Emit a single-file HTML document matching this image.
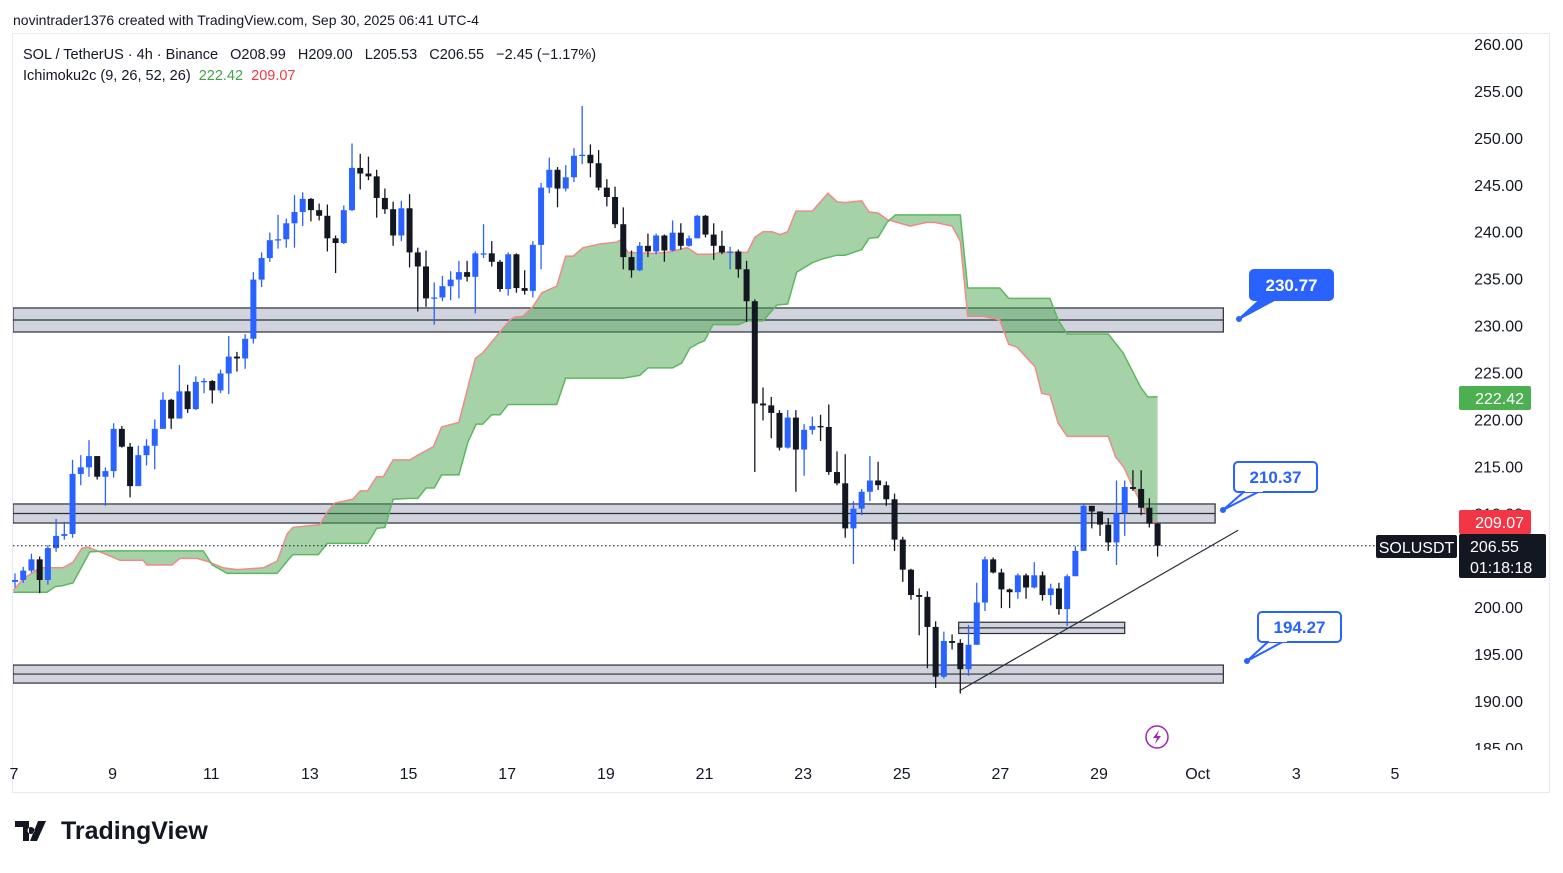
<!DOCTYPE html>
<html><head><meta charset="utf-8"><style>
body{margin:0;background:#fff;font-family:"Liberation Sans",sans-serif}
svg text{font-family:"Liberation Sans",sans-serif}
.pre{white-space:pre}
</style></head><body>
<svg id="c" width="1563" height="868" xmlns="http://www.w3.org/2000/svg">
<rect x="0" y="0" width="1563" height="868" fill="#fff"/>
<text x="13" y="25" font-size="14" fill="#131722">novintrader1376 created with TradingView.com, Sep 30, 2025 06:41 UTC-4</text>
<rect x="12.5" y="33.5" width="1537" height="759" fill="none" stroke="#e9eaee"/>
<g id="boxes"></g><g id="cloud"></g><g id="candles"></g><g id="draw"></g>
<g>
<text class="pre" x="23" y="59" font-size="14.5" fill="#131722">SOL / TetherUS · 4h · Binance   O208.99   H209.00   L205.53   C206.55   −2.45 (−1.17%)</text>
<text class="pre" x="23" y="80" font-size="14.5" fill="#131722">Ichimoku2c (9, 26, 52, 26)  <tspan fill="#43a047">222.42</tspan>  <tspan fill="#f23645">209.07</tspan></text>
</g>
<g id="yaxis"></g><g id="xaxis"></g><g id="labels"></g>
<g><circle cx="1157" cy="737" r="11" fill="#fff" stroke="#9c27b0" stroke-width="1.5"/><path d="M1159 730 L1153 738 L1157 738 L1155 744 L1161 736 L1157 736 Z" fill="#9c27b0"/></g>
<g>
<path d="M15 821 h14 v20 h-6 v-14 h-8 Z M31 827 a3.5 3.5 0 1 0 0.01 0 Z M38 821 h8 l-9 20 h-7 Z" fill="#131722"/>
<text x="61" y="839" font-size="25" font-weight="bold" fill="#131722">TradingView</text>
</g>
</svg>
<script>
const closes=[202.9,203.9,205.1,202.9,206.3,207.6,207.8,214.2,214.9,216.1,213.9,214.5,219.0,217.1,212.9,216.2,217.2,219.0,222.1,220.1,223.0,221.1,224.0,224.1,223.1,224.9,226.7,226.5,228.6,234.9,237.2,239.1,239.2,240.9,242.1,243.5,242.3,241.7,239.3,238.8,242.3,246.8,246.2,245.9,243.6,242.4,239.6,242.5,237.8,236.3,232.9,233.0,234.2,234.9,235.7,235.2,237.7,237.7,236.8,233.9,237.6,234.0,233.7,238.6,244.7,246.6,244.6,245.8,248.1,248.2,247.3,244.7,243.7,240.8,237.3,235.9,238.5,237.9,239.6,238.0,239.9,238.5,239.3,241.7,239.7,238.5,237.8,237.9,236.0,232.6,221.7,221.5,220.7,217.0,220.2,216.8,218.9,219.3,219.2,214.4,213.2,208.4,210.5,212.3,213.5,213.0,211.5,207.2,204.0,201.3,201.1,197.9,192.6,196.4,196.2,193.4,196.0,200.5,205.1,203.7,201.9,201.6,203.4,202.1,203.4,201.3,202.0,199.8,203.3,206.0,210.8,210.2,208.8,206.9,210.0,212.8,212.6,210.6,208.9,206.55];
const firstOpen=202.7;
const highs=[203.6,204.3,205.7,205.4,206.6,209.4,209.1,215.7,216.2,217.8,216.1,214.9,219.6,219.3,217.5,217.2,217.9,220.0,222.9,222.2,225.8,223.7,224.6,224.4,224.2,225.3,228.9,227.2,229.1,235.7,237.8,239.9,241.8,241.4,243.9,244.2,243.6,243.0,242.9,239.6,242.8,249.4,248.3,248.0,246.6,244.6,243.2,243.3,244.0,238.3,238.0,234.6,235.3,235.8,236.9,236.9,237.9,240.8,239.0,237.0,237.8,237.7,235.9,239.0,245.2,247.9,246.9,247.1,248.9,253.4,249.3,248.7,245.6,244.8,242.6,238.0,238.9,239.8,239.8,239.7,241.2,240.9,239.6,241.8,241.8,240.9,240.1,238.4,238.1,236.9,232.8,223.4,222.4,221.0,221.0,221.0,219.5,220.3,220.5,221.6,216.6,216.3,211.3,212.6,216.1,215.5,213.4,212.1,207.5,204.1,202.0,201.7,198.5,197.4,197.1,196.6,198.1,202.6,205.4,205.3,204.1,202.0,203.6,203.6,204.8,203.8,202.5,202.6,203.5,206.5,211.0,210.8,209.6,209.5,213.5,213.5,214.6,214.6,211.6,209.0];
const lows=[202.1,202.6,203.7,201.5,202.4,205.9,207.2,207.4,213.0,213.9,213.6,210.8,213.8,217.0,211.7,212.9,215.1,214.7,219.2,219.0,220.1,220.7,221.0,222.8,221.7,222.8,222.7,225.1,225.4,228.1,234.1,236.8,238.2,238.3,238.3,240.6,241.1,241.2,237.9,235.6,238.7,242.2,244.5,245.5,241.5,241.9,238.5,239.0,236.2,231.5,232.0,230.1,232.6,232.7,232.9,234.7,231.3,237.2,236.3,233.6,233.2,233.5,233.3,233.0,236.0,244.1,242.6,244.3,245.3,247.2,245.8,244.4,242.7,240.4,236.0,235.1,235.8,237.3,237.6,236.8,237.9,238.1,238.4,239.3,239.4,237.0,237.6,236.0,235.1,230.4,214.4,219.9,218.0,216.7,216.9,212.3,214.0,218.4,217.7,214.1,213.0,207.4,204.6,209.8,211.3,212.5,210.8,206.0,202.7,200.8,197.0,193.5,191.4,192.4,195.5,190.8,192.7,196.0,199.6,203.6,199.9,199.9,200.9,200.9,202.0,200.7,200.2,199.2,198.0,203.5,206.0,208.4,207.6,206.0,204.5,207.6,212.4,209.8,208.5,205.4];
const spanAIdx=[-0.2,0.97,3.04,5.84,7.06,8.15,8.88,11.19,12.77,15.57,16.06,19.1,20.07,22.14,23.36,25.3,27.0,30.2,31.9,33.1,33.8,37.1,37.96,38.9,41.1,42.0,42.9,44.0,44.8,46.0,48.05,49.0,50.9,51.9,54.0,56.0,56.9,60.2,60.8,61.8,63.0,64.1,65.9,67.0,67.9,69.1,71.2,73.2,73.6,74.6,77.6,79.3,81.8,83.0,84.9,85.8,89.1,90.0,91.0,92.1,93.1,94.0,95.0,97.0,98.9,100.0,101.0,103.0,103.9,105.0,106.1,108.9,110.9,111.9,114.0,115.0,115.9,117.8,119.8,120.9,121.9,124.1,124.9,125.9,126.9,128.0,133.0,133.9,134.9,136.0,137.1,138.1,139];
const spanAVal=[201.8,203.0,204.2,204.2,204.8,206.3,206.4,205.6,205.0,205.0,204.5,204.5,205.2,205.2,204.9,204.2,204.0,204.2,204.9,207.8,208.5,208.8,210.1,211.1,211.5,212.4,212.4,213.9,213.9,215.7,215.7,216.2,217.1,219.2,219.7,226.5,227.1,230.6,230.9,231.0,232.0,233.5,234.2,237.4,237.4,238.3,238.7,238.9,239.1,237.8,237.7,237.8,238.3,237.6,237.6,237.8,237.8,239.4,240.0,240.0,239.7,240.0,242.2,242.2,244.1,243.2,243.1,243.3,242.1,242.0,241.3,240.6,241.0,241.0,240.6,239.0,231.0,231.0,230.6,228.0,227.7,225.6,222.8,222.6,219.6,218.2,218.2,216.0,214.9,212.8,210.9,209.1,209.07];
const spanBIdx=[-0.2,3.9,4.9,5.8,7.06,9.1,11.2,22.9,24.0,25.8,31.9,33.2,33.8,36.9,38.0,42.9,44.0,45.0,46.0,48.05,49.0,50.0,51.0,51.9,54.0,55.1,56.1,56.9,58.0,59.0,60.0,65.9,67.0,74.0,76.0,77.0,80.0,81.1,82.1,83.1,83.9,84.9,88.0,89.1,91.0,92.7,94.0,95.1,97.0,98.2,100.0,101.0,103.0,103.9,105.0,106.1,107.1,115.0,115.9,119.8,120.9,125.9,126.9,128.0,133.0,134.8,136.9,137.8,139];
const spanBVal=[201.6,201.6,202.2,202.3,202.6,205.9,206.0,206.0,204.5,203.6,203.6,205.0,205.6,205.6,206.8,206.8,208.4,208.5,211.5,211.6,211.6,212.7,212.7,214.1,214.1,217.6,219.5,219.5,220.5,220.5,221.6,221.6,224.4,224.4,224.7,225.5,225.5,226.0,227.6,228.1,228.4,230.1,230.1,230.5,230.5,232.2,232.3,235.7,236.7,237.1,237.5,237.5,238.1,239.3,239.4,241.0,241.8,241.8,234.0,234.0,232.9,232.9,230.6,229.1,229.1,227.1,223.5,222.4,222.42];
const yTicks=[260,255,250,245,240,235,230,225,220,215,210,205,200,195,190,185];
const xTickIdx=[0,12,24,36,48,60,72,84,96,108,120,132,144,156,168];
const xTickLabels=["7","9","11","13","15","17","19","21","23","25","27","29","Oct","3","5"];
const boxTop=[231.88,211.0,198.4,193.84];
const boxBot=[229.32,208.97,197.2,191.92];
const boxStart=[-0.24,-0.24,114.8,-0.24];
const boxEnd=[147.0,146.0,135.0,147.0];

const NS="http://www.w3.org/2000/svg";
const Y=p=>44+(260-p)*9.387;
const X=i=>15+i*8.22;
function mk(t,a,parent){const e=document.createElementNS(NS,t);for(const k in a)e.setAttribute(k,a[k]);parent.appendChild(e);return e;}
const svg=document.getElementById('c');
const gB=document.getElementById('boxes'),gC=document.getElementById('cloud'),gK=document.getElementById('candles'),gD=document.getElementById('draw'),gY=document.getElementById('yaxis'),gX=document.getElementById('xaxis'),gL=document.getElementById('labels');
const defs=mk('defs',{},svg);const cp=mk('clipPath',{id:'plot'},defs);mk('rect',{x:13,y:34,width:1440,height:716},cp);
gB.setAttribute('clip-path','url(#plot)');gC.setAttribute('clip-path','url(#plot)');
for(let i=0;i<boxTop.length;i++){
 const x1=X(boxStart[i]),x2=X(boxEnd[i]),y1=Y(boxTop[i]),y2=Y(boxBot[i]);
 const r=mk('rect',{x:x1,y:y1,width:x2-x1,height:y2-y1,fill:'#d1d4dc',stroke:'#2a2e39','stroke-width':1.2},gB);
 
 
 const l=mk('line',{x1:x1,x2:x2,y1:(y1+y2)/2,y2:(y1+y2)/2,stroke:'#2a2e39','stroke-width':1.2},gB);
 
 
}
let pts=[];for(let i=0;i<spanAIdx.length;i++)pts.push(X(spanAIdx[i])+','+Y(spanAVal[i]));
let ptsB=[];for(let i=0;i<spanBIdx.length;i++)ptsB.push(X(spanBIdx[i])+','+Y(spanBVal[i]));
const poly=mk('polygon',{points:pts.concat(ptsB.slice().reverse()).join(' '),fill:'rgba(67,160,71,0.48)','fill-rule':'nonzero'},gC);


const la=mk('polyline',{points:pts.join(' '),fill:'none',stroke:'#ef8a8a','stroke-width':1.5},gC);


const lb=mk('polyline',{points:ptsB.join(' '),fill:'none',stroke:'#5cb860','stroke-width':1.5},gC);


for(let i=0;i<closes.length;i++){
 const o=i==0?firstOpen:closes[i-1],c=closes[i];const up=c>=o;const col=up?'#2962ff':'#131722';const x=X(i);
 const g=mk('g',{},gK);
 
 
 mk('line',{x1:x,x2:x,y1:Y(highs[i]),y2:Y(lows[i]),stroke:col,'stroke-width':1.3},g);
 const yt=Y(Math.max(o,c)),yb=Y(Math.min(o,c));
 mk('rect',{x:x-3,y:yt,width:6,height:Math.max(1.3,yb-yt),fill:col},g);
}
yTicks.forEach(v=>{const t=mk('text',{x:1523,y:Y(v)+6,'font-size':16,'text-anchor':'end',fill:'#131722'},gY);t.textContent=v.toFixed(2);
 
 });
xTickIdx.forEach((v,i)=>{const t=mk('text',{x:X(v)-1,y:779,'font-size':16,'text-anchor':'middle',fill:'#131722'},gX);t.textContent=xTickLabels[i];
 
 });
const cov=mk('rect',{x:1455,y:750,width:94,height:10,fill:'#fff'},gY);


const last=closes[closes.length-1];
const pl=mk('line',{x1:13,x2:1375,y1:Y(last),y2:Y(last),stroke:'#131722','stroke-width':1,'stroke-dasharray':'1.5 2.5'},gD);


const tl=mk('line',{x1:X(114.9),y1:Y(191.1),x2:X(148.8),y2:Y(208.2),stroke:'#2a2e39','stroke-width':1.2},gD);


function callout(bx,by,txt,filled,dx,dy,name){
 const g=mk('g',{},gD);
 
 
 mk('path',{d:`M${bx+12} ${by+28} L${dx} ${dy} L${bx+28} ${by+28} Z`,fill:filled?'#2962ff':'#fff',stroke:'#2962ff','stroke-width':2,'stroke-linejoin':'round'},g);
 mk('rect',{x:bx,y:by,width:83,height:30,rx:4,fill:filled?'#2962ff':'#fff',stroke:'#2962ff','stroke-width':2},g);
 if(!filled)mk('rect',{x:bx+11,y:by+26,width:18,height:4,fill:'#fff'},g);
 mk('circle',{cx:dx,cy:dy,r:3,fill:'#2962ff'},g);
 const t=mk('text',{x:bx+41.5,y:by+21,'font-size':17,'text-anchor':'middle',fill:filled?'#fff':'#2962ff','font-weight':'bold'},g);t.textContent=txt;
}
callout(1250,270,'230.77',true,1239,319,'callout-230');
callout(1234,462,'210.37',false,1223,510,'callout-210');
callout(1258,612,'194.27',false,1247,661,'callout-194');
function lab(x,y,w,h,bg,lines,name,tx,anchor){const g=mk('g',{},gL);
 
 
 mk('rect',{x:x,y:y,width:w,height:h,fill:bg,rx:2},g);
 lines.forEach((s,i)=>{const t=mk('text',{x:tx,y:y+18+i*21,'font-size':16,fill:'#fff','text-anchor':anchor},g);t.textContent=s;});}
lab(1459,386,72,24,'#4caf50',['222.42'],'span-a-price-label',1524,'end');
lab(1459,510,72,24,'#f23645',['209.07'],'span-b-price-label',1524,'end');
lab(1376,535,81,23,'#131722',['SOLUSDT'],'symbol-label',1416.5,'middle');
lab(1459,534,87,44,'#131722',[last.toFixed(2),'01:18:18'],'last-price-label',1470,'start');
</script>
</body></html>
